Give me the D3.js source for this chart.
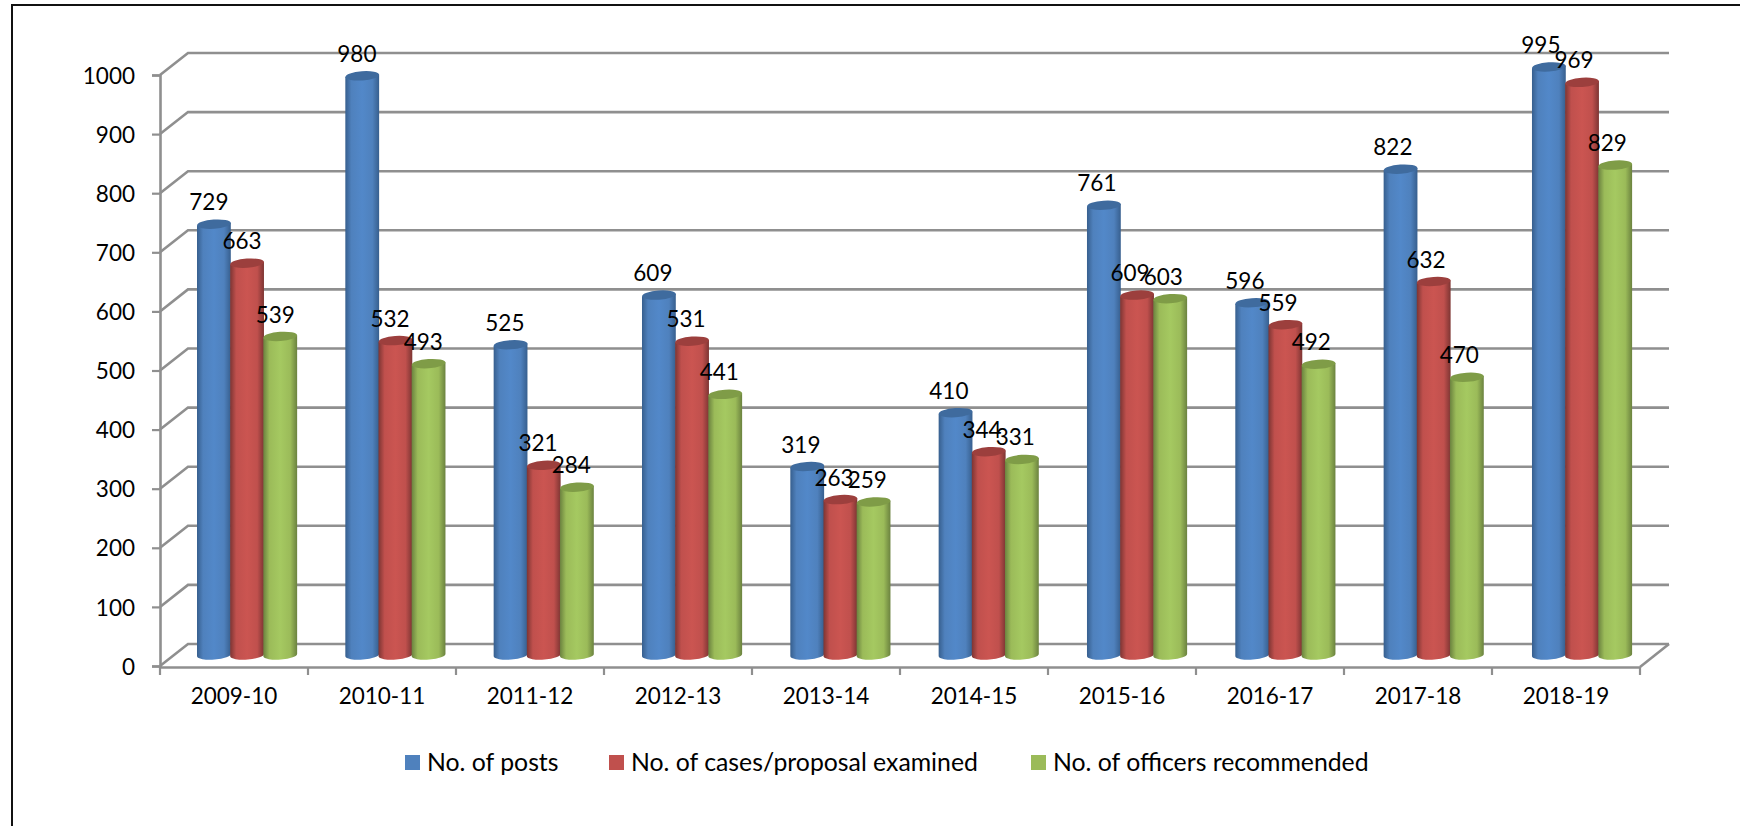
<!DOCTYPE html>
<html>
<head>
<meta charset="utf-8">
<script src="https://cdn.jsdelivr.net/npm/d3@7"></script>
<style>
html,body{margin:0;padding:0;background:#fff;overflow:hidden}
svg{display:block}
text{font-family:Lato,"Open Sans",sans-serif;fill:#000}
</style>
</head>
<body>
<svg id="chart" width="1740" height="826"></svg>
<script>
const categories = ["2009-10","2010-11","2011-12","2012-13","2013-14","2014-15","2015-16","2016-17","2017-18","2018-19"];
const seriesNames = ["No. of posts","No. of cases/proposal examined","No. of officers recommended"];
const posts = [729,980,525,609,319,410,761,596,822,995];
const examined = [663,532,321,531,263,344,609,559,632,969];
const recommended = [539,493,284,441,259,331,603,492,470,829];
const yTicks = [0,100,200,300,400,500,600,700,800,900,1000];
const seriesValues = [posts,examined,recommended];

const baseColors = ["#4F81BD","#C0504D","#9BBB59"];
const lightColors = ["#5288C9","#CB5551","#A5C961"];
const edgeColors = ["#375F8E","#7D3533","#6B823F"];
const capColors = ["#3F6B9E","#9C3F3D","#7F9C47"];
const gridColor = "#8F8F8F";

const W = 1740, H = 826;
const axisLeft = 160, axisRight = 1640, yZero = 666, yTop = 75;
const depthX = 28, depthY = 22;
const fontSize = 22.5, legendFontSize = 24.8;

const svg = d3.select("#chart");
const x = d3.scaleBand().domain(categories).range([axisLeft, axisRight]);
const y = d3.scaleLinear().domain([0,1000]).range([yZero, yTop]);
const inner = d3.scaleBand().domain(d3.range(3)).range([37, 136.5]);

// frame
svg.append("path").attr("d",`M12,${H}V5H${W}`).attr("fill","none").attr("stroke","#111").attr("stroke-width",2);

// gradients
const defs = svg.append("defs");
baseColors.forEach((c,i)=>{
  const g = defs.append("linearGradient").attr("id","cyl"+i).attr("x1",0).attr("x2",1).attr("y1",0).attr("y2",0);
  [[0,edgeColors[i]],[0.18,c],[0.5,lightColors[i]],[0.8,c],[1,edgeColors[i]]].forEach(s=>{
    g.append("stop").attr("offset",s[0]).attr("stop-color",s[1]);
  });
});

// walls: gridlines and floor
const grid = svg.append("g").attr("fill","none").attr("stroke",gridColor).attr("stroke-width",2.6);
yTicks.forEach(t=>{
  grid.append("path").attr("d",`M${axisLeft},${y(t)}L${axisLeft+depthX},${y(t)-depthY}H${axisRight+depthX+1}`);
});
grid.append("path").attr("d",`M${axisRight},${y(0)+1}L${axisRight+depthX+1},${y(0)-depthY}`);

// axes
const yAxis = svg.append("g").attr("transform",`translate(${axisLeft},0)`)
  .call(d3.axisLeft(y).tickValues(yTicks).tickSize(8).tickPadding(17).tickFormat(d3.format("d")));
const xAxis = svg.append("g").attr("transform",`translate(0,${yZero+1})`)
  .call(d3.axisBottom(x).tickSize(0).tickPadding(21));
[yAxis,xAxis].forEach(a=>{
  a.attr("font-family",null).attr("font-size",null);
  a.selectAll("text").style("font-size",fontSize+"px");
  a.select(".domain").attr("stroke",gridColor).attr("stroke-width",2.6);
  a.selectAll(".tick line").attr("stroke",gridColor).attr("stroke-width",2.2);
});
yAxis.selectAll(".tick text").attr("dy","0.36em");
xAxis.selectAll(".tick text").attr("dy","0.71em");
xAxis.selectAll(".xtick").data(d3.range(categories.length+1)).enter().append("line")
  .attr("x1",i=>i<categories.length?x(categories[i]):axisRight)
  .attr("x2",i=>i<categories.length?x(categories[i]):axisRight)
  .attr("y1",0).attr("y2",8).attr("stroke",gridColor).attr("stroke-width",2.2);

// cylinders
const rx = 16.9, ry = 4.6, tilt = 1.3, rise = 11, drift = 0.33;
const bars = svg.append("g");
const labels = svg.append("g");
categories.forEach((cat,ci)=>{
  seriesValues.forEach((vals,si)=>{
    const x0 = x(cat)+inner(si)+ci*drift, x1 = x0+rx*2, cx = (x0+x1)/2;
    const base = y(0)-rise, top = y(vals[ci])-rise;
    bars.append("path")
      .attr("d",`M${x0},${top+tilt}L${x0},${base+tilt}A${rx},${ry},-4,0,0,${x1},${base-tilt}L${x1},${top-tilt}Z`)
      .attr("fill",`url(#cyl${si})`);
    bars.append("ellipse")
      .attr("cx",cx).attr("cy",top).attr("rx",rx).attr("ry",ry)
      .attr("transform",`rotate(-4 ${cx} ${top})`)
      .attr("fill",capColors[si]);
    labels.append("text").attr("x",x(cat)+inner(si)+rx-5).attr("y",top-22).attr("dy","0.36em")
      .attr("text-anchor","middle").style("font-size",fontSize+"px").text(vals[ci]);
  });
});

// legend
const legendX = d3.scaleOrdinal().domain(seriesNames).range([405,609,1031]);
const legend = svg.append("g");
seriesNames.forEach((n,i)=>{
  legend.append("rect").attr("x",legendX(n)).attr("y",755).attr("width",15).attr("height",15).attr("fill",baseColors[i]);
  legend.append("text").attr("x",legendX(n)+22).attr("y",762).attr("dy","0.36em").style("font-size",legendFontSize+"px").text(n);
});
</script>
</body>
</html>
